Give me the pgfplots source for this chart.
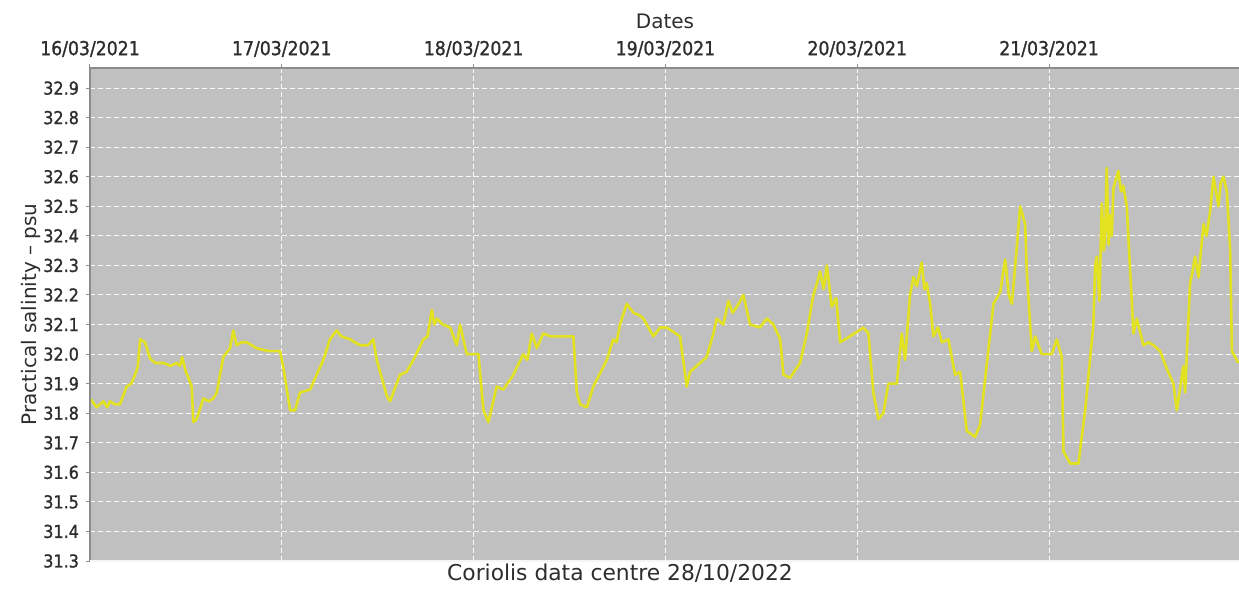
\documentclass[border=0pt]{standalone}
\usepackage{pgfplots}
\pgfplotsset{compat=1.18}
\usepackage{fontspec}
\setmainfont{DejaVu Sans}
\newfontfamily\tickfont{DejaVu Sans Condensed}[FakeBold=1.2]
\definecolor{bg}{RGB}{192,192,192}
\definecolor{sal}{RGB}{226,226,32}
\definecolor{txt}{RGB}{45,45,45}
\definecolor{axl}{RGB}{140,140,140}
\pgfplotstableread{
x y
0.000 31.85
0.035 31.82
0.070 31.84
0.090 31.82
0.104 31.84
0.130 31.83
0.156 31.83
0.191 31.89
0.215 31.90
0.235 31.93
0.250 31.96
0.261 32.05
0.287 32.04
0.313 31.985
0.340 31.97
0.382 31.97
0.420 31.96
0.452 31.97
0.469 31.96
0.480 31.99
0.500 31.94
0.513 31.92
0.530 31.89
0.539 31.77
0.556 31.78
0.591 31.85
0.620 31.84
0.643 31.85
0.661 31.87
0.695 31.99
0.730 32.02
0.747 32.08
0.765 32.03
0.790 32.04
0.817 32.04
0.869 32.02
0.930 32.01
0.991 32.01
1.008 31.955
1.043 31.81
1.069 31.81
1.095 31.87
1.147 31.88
1.216 31.98
1.251 32.05
1.286 32.08
1.310 32.06
1.356 32.05
1.380 32.04
1.408 32.03
1.450 32.03
1.477 32.05
1.495 31.98
1.547 31.86
1.564 31.84
1.616 31.93
1.650 31.94
1.686 31.98
1.738 32.05
1.760 32.06
1.782 32.15
1.795 32.10
1.808 32.12
1.840 32.10
1.877 32.09
1.912 32.03
1.929 32.10
1.964 32.00
2.025 32.00
2.051 31.81
2.077 31.77
2.120 31.89
2.155 31.88
2.207 31.93
2.259 32.00
2.280 31.98
2.303 32.07
2.329 32.02
2.363 32.07
2.400 32.06
2.450 32.06
2.520 32.06
2.538 31.87
2.555 31.83
2.590 31.82
2.624 31.89
2.694 31.98
2.728 32.05
2.745 32.04
2.763 32.10
2.798 32.17
2.833 32.14
2.868 32.13
2.885 32.12
2.937 32.06
2.972 32.09
3.007 32.09
3.076 32.06
3.111 31.89
3.128 31.94
3.180 31.97
3.215 31.99
3.250 32.07
3.267 32.12
3.302 32.10
3.328 32.18
3.350 32.14
3.372 32.16
3.406 32.20
3.441 32.10
3.493 32.09
3.528 32.12
3.563 32.10
3.598 32.05
3.615 31.93
3.650 31.92
3.702 31.97
3.737 32.07
3.771 32.20
3.790 32.24
3.806 32.28
3.825 32.22
3.841 32.30
3.867 32.16
3.890 32.19
3.910 32.04
3.962 32.06
4.032 32.09
4.058 32.07
4.084 31.87
4.110 31.78
4.136 31.80
4.162 31.90
4.206 31.90
4.232 32.07
4.249 31.98
4.275 32.20
4.293 32.26
4.310 32.23
4.336 32.31
4.350 32.22
4.362 32.24
4.380 32.17
4.397 32.06
4.420 32.09
4.441 32.04
4.475 32.05
4.510 31.93
4.536 31.94
4.571 31.74
4.614 31.72
4.640 31.76
4.710 32.17
4.745 32.21
4.771 32.32
4.790 32.20
4.806 32.17
4.830 32.35
4.849 32.50
4.875 32.44
4.884 32.28
4.910 32.01
4.927 32.06
4.962 32.00
5.014 32.00
5.040 32.05
5.066 31.99
5.075 31.67
5.110 31.63
5.153 31.63
5.188 31.81
5.231 32.10
5.240 32.30
5.249 32.33
5.262 32.18
5.275 32.51
5.285 32.35
5.292 32.40
5.301 32.63
5.310 32.37
5.318 32.47
5.327 32.40
5.335 32.56
5.361 32.62
5.375 32.55
5.387 32.57
5.405 32.50
5.422 32.29
5.440 32.07
5.457 32.12
5.492 32.03
5.520 32.04
5.544 32.03
5.579 32.01
5.614 31.95
5.648 31.90
5.666 31.81
5.700 31.96
5.709 31.87
5.735 32.24
5.748 32.28
5.761 32.33
5.779 32.26
5.805 32.44
5.820 32.40
5.839 32.48
5.857 32.60
5.870 32.55
5.883 32.50
5.895 32.58
5.909 32.60
5.927 32.55
5.944 32.35
5.953 32.01
5.987 31.97
}\salinity
\begin{document}
\begin{tikzpicture}
\begin{axis}[
  at={(0,0)}, anchor=south west,
  scale only axis, width=574.5pt, height=246.5pt,
  xmin=0, xmax=5.990, ymin=31.3, ymax=32.968,
  axis background/.style={fill=bg},
  axis line style={draw=none},
  xtick={0,1,2,3,4,5},
  xticklabels={16/03/2021,17/03/2021,18/03/2021,19/03/2021,20/03/2021,21/03/2021},
  xtick pos=upper, xticklabel pos=upper,
  ytick={31.3,31.4,31.5,31.6,31.7,31.8,31.9,32.0,32.1,32.2,32.3,32.4,32.5,32.6,32.7,32.8,32.9},
  ytick pos=left,
  tick align=outside,
  major tick length=2pt,
  tick style={draw=axl, line width=0.5pt},
  grid=major,
  major grid style={draw=white!90!bg, line width=0.5pt, dash pattern=on 2.5pt off 1.5pt},
  /pgf/number format/assume math mode=true,
  yticklabel style={/pgf/number format/fixed, /pgf/number format/fixed zerofill, /pgf/number format/precision=1, font=\tickfont\fontsize{8.9}{10}\selectfont, text=txt},
  xticklabel style={font=\tickfont\fontsize{9.6}{10}\selectfont, text=txt},
]
\addplot[sal, line width=1.3pt, line join=round] table[x=x, y=y] {\salinity};
\end{axis}
\draw[axl, line width=1pt] (0,0) -- (0,246.5pt) -- (574.5pt,246.5pt);
\draw[white!85!bg, line width=1pt] (0,0) -- (574.5pt,0);
\node[anchor=base, text=txt, font=\fontsize{10}{12}\selectfont] at (287.5pt,266.5pt) {Dates};
\node[anchor=base, rotate=90, text=txt, font=\fontsize{10}{12}\selectfont] at (-26.5pt,123.25pt) {Practical salinity – psu};
\node[anchor=base, text=txt, font=\fontsize{10.9}{12}\selectfont] at (265pt,-9.5pt) {Coriolis data centre 28/10/2022};
\pgfresetboundingbox
\path[use as bounding box] (-45pt,-15pt) rectangle (574.5pt,280.5pt);
\end{tikzpicture}
\end{document}
